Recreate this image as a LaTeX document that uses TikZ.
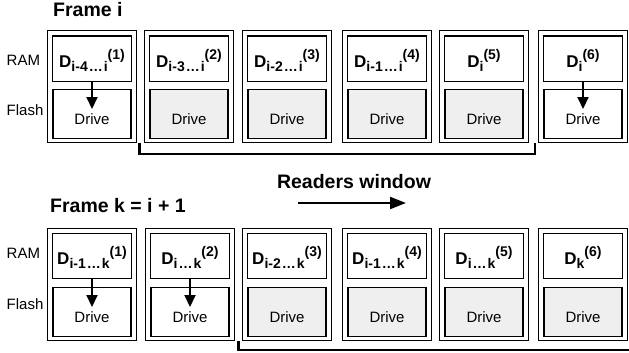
\documentclass[tikz,border=0pt]{standalone}
\usepackage{fontspec}
\setmainfont{Liberation Sans}
\usetikzlibrary{arrows.meta}
\definecolor{drivegrey}{HTML}{EFEFEF}
\newcommand\dlab[2]{\fontsize{17}{17}\selectfont\bfseries D\raisebox{-4.5pt}{\fontsize{14}{14}\selectfont #1}\raisebox{8pt}{\fontsize{14}{14}\selectfont #2}}
\tikzset{
  outerbox/.style={draw, line width=1.4pt, minimum width=89pt, minimum height=111.5pt, inner sep=0pt, anchor=north},
  rambox/.style={draw, line width=1.4pt, minimum width=79pt, minimum height=45pt, inner sep=0pt, anchor=north},
  flashbox/.style={draw, line width=1.4pt, minimum width=78pt, minimum height=49pt, inner sep=0pt, anchor=north},
  dlabel/.style={inner sep=0pt, anchor=base},
  drivetext/.style={inner sep=0pt, anchor=base, font=\fontsize{15}{18}\selectfont},
  sidetext/.style={inner sep=0pt, anchor=base west, font=\fontsize{15}{18}\selectfont},
  titletext/.style={inner sep=0pt, font=\fontsize{19.5}{22}\selectfont\bfseries},
  inarrow/.style={line width=2pt, -{Triangle[length=12pt,width=11pt]}},
  winarrow/.style={line width=2.2pt, -{Triangle[length=16pt,width=12pt]}},
  bracket/.style={line width=2.6pt}
}
\begin{document}
\begin{tikzpicture}[x=1pt,y=-1pt]
\useasboundingbox (0,0) rectangle (629,353);
% top frame
\node[titletext, anchor=base west] (framei) at (53,16.7) {Frame i};
\node[sidetext] (ramt) at (6.5,65.3) {RAM};
\node[sidetext] (flasht) at (6.5,115) {Flash};
\foreach \n/\cx/\sub/\sup/\fc in {
  1/92/i-4\kern1pt…\kern1pt i/(1)/white,
  2/189/i-3\kern1pt…\kern1pt i/(2)/drivegrey,
  3/287/i-2\kern1pt…\kern1pt i/(3)/drivegrey,
  4/387/i-1\kern1pt…\kern1pt i/(4)/drivegrey,
  5/484/i/(5)/drivegrey,
  6/583/i/(6)/white}{
  \node[outerbox] (t\n) at (\cx,30) {};
  \node[rambox] (tr\n) at (\cx,35.5) {};
  \node[flashbox, fill=\fc] (tf\n) at (\cx,88.5) {};
  \node[dlabel] (td\n) at (\cx,67) {\dlab{\sub}{\sup}};
  \node[drivetext] (tv\n) at (\cx,124.5) {Drive};
}
\coordinate (ta1) at (92,109);
\coordinate (ta6) at (583,109);
\draw[inarrow] (tr1.south) -- (ta1);
\draw[inarrow] (tr6.south) -- (ta6);
\coordinate (tb1) at (139.7,143);
\coordinate (tb2) at (535,143);
\draw[bracket] (tb1) -- (139.7,154) -- (535,154) -- (tb2);
% window
\node[titletext, anchor=base] (readers) at (354,188) {Readers window};
\coordinate (wa1) at (298,203);
\coordinate (wa2) at (406,203);
\draw[winarrow] (wa1) -- (wa2);
% bottom frame
\node[titletext, anchor=base west] (framek) at (50,212) {Frame k = i + 1};
\node[sidetext] (ramb) at (6.5,258.3) {RAM};
\node[sidetext] (flashb) at (6.5,309.3) {Flash};
\foreach \n/\cx/\sub/\sup/\fc in {
  1/92/i-1\kern1pt…\kern1pt k/(1)/white,
  2/190/i\kern1pt…\kern1pt k/(2)/white,
  3/287/i-2\kern1pt…\kern1pt k/(3)/drivegrey,
  4/387/i-1\kern1pt…\kern1pt k/(4)/drivegrey,
  5/484/i\kern1pt…\kern1pt k/(5)/drivegrey,
  6/583/k/(6)/drivegrey}{
  \node[outerbox] (b\n) at (\cx,228) {};
  \node[rambox] (br\n) at (\cx,233) {};
  \node[flashbox, fill=\fc] (bf\n) at (\cx,286.5) {};
  \node[dlabel] (bd\n) at (\cx,264) {\dlab{\sub}{\sup}};
  \node[drivetext] (bv\n) at (\cx,322.5) {Drive};
}
\coordinate (ba1) at (92,307);
\coordinate (ba2) at (190,307);
\draw[inarrow] (br1.south) -- (ba1);
\draw[inarrow] (br2.south) -- (ba2);
\coordinate (bb1) at (238.3,341);
\coordinate (bb2) at (629,350);
\draw[bracket] (bb1) -- (238.3,350) -- (bb2);
\end{tikzpicture}
\end{document}
